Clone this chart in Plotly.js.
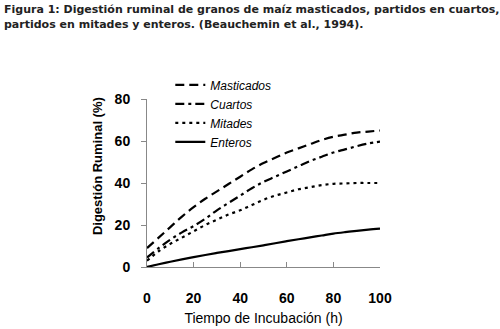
<!DOCTYPE html>
<html>
<head>
<meta charset="utf-8">
<script src="https://cdn.plot.ly/plotly-3.0.1.min.js"></script>
<style>html,body{margin:0;padding:0;background:#fff;}#chart{width:500px;height:329px;}</style>
</head>
<body>
<div id="chart"></div>
<script>
const hours = [0,5,10,15,20,25,30,35,40,45,50,55,60,65,70,75,80,85,90,95,100];
const masticados = [9,14,19,24,28.5,32.5,36,39.5,43,46.5,49.5,52,54.5,56.5,58.5,60.5,62,63,64,64.5,65];
const cuartos = [4.5,9,13,16.5,19.5,23,27,30.5,34,37.5,40.5,43,45.5,48,50.5,52.5,54.5,56,57.5,58.8,59.7];
const mitades = [3,7.5,11,14,17,20,22.5,25,27,29.5,32,34,35.5,37,38,39,39.6,39.8,40,40,40];
const enteros = [0,1.3,2.5,3.6,4.7,5.7,6.7,7.6,8.5,9.4,10.3,11.3,12.3,13.2,14.1,15,15.9,16.6,17.2,17.8,18.3];
const seriesNames = ['Masticados','Cuartos','Mitades','Enteros'];
const xTicks = [0,20,40,60,80,100];
const yTicks = [0,20,40,60,80];
const titleLines = ['Figura 1: Digestión ruminal de granos de maíz masticados, partidos en cuartos,',
                    'partidos en mitades y enteros. (Beauchemin et al., 1994).'];

const dashes = ['9px,5px','9px,4px,3px,4px','3px,4px','solid'];
const allSeries = [masticados,cuartos,mitades,enteros];
const traces = allSeries.map((s,i)=>({
  x: hours, y: s, name: seriesNames[i], type:'scatter', mode:'lines',
  line:{color:'#000', width:2.2, dash:dashes[i], shape:'spline'}
}));

const tickFont = {family:'Liberation Sans, Arial, sans-serif', size:14, color:'#000', weight:'bold'};
const titleFont = {family:'DejaVu Sans, Verdana, sans-serif', size:11, color:'#222', weight:'bold'};
const layout = {
  width:500, height:329,
  margin:{l:147, r:120, t:99, b:62, pad:0},
  paper_bgcolor:'#fff', plot_bgcolor:'#fff',
  showlegend:true,
  xaxis:{
    range:[0,100], tickvals:xTicks, ticktext:xTicks.map(String),
    showgrid:false, zeroline:false, showline:true, linecolor:'#888', linewidth:1,
    ticks:'inside', ticklen:5, tickcolor:'#888', tickwidth:1,
    tickfont:tickFont, ticklabelstandoff:18,
    title:{text:'Tiempo de Incubación (h)', font:{family:'Liberation Sans, Arial, sans-serif', size:14, color:'#000'}, standoff:8}
  },
  yaxis:{
    range:[0,80], tickvals:yTicks, ticktext:yTicks.map(String),
    showgrid:false, zeroline:false, showline:true, linecolor:'#888', linewidth:1,
    ticks:'outside', ticklen:5, tickcolor:'#888', tickwidth:1,
    tickfont:tickFont, ticklabelstandoff:8
  },
  legend:{
    x:0.1, xanchor:'left', y:1.17, yanchor:'top',
    bgcolor:'rgba(0,0,0,0)', borderwidth:0,
    font:{family:'Liberation Sans, Arial, sans-serif', size:12, color:'#000', style:'italic'},
    tracegroupgap:0
  },
  annotations:[
    {text:titleLines[0], xref:'paper', yref:'paper', x:-0.6223, y:1.5298, xanchor:'left', yanchor:'middle', showarrow:false, font:titleFont},
    {text:titleLines[1], xref:'paper', yref:'paper', x:-0.6223, y:1.4464, xanchor:'left', yanchor:'middle', showarrow:false, font:titleFont},
    {
    text:'Digestión Ruminal (%)', xref:'paper', yref:'paper',
    x:-0.215, y:0.6, xanchor:'center', yanchor:'middle', textangle:-90, showarrow:false,
    font:{family:'Liberation Sans, Arial, sans-serif', size:13, color:'#000', weight:'bold'}
  }]
};
Plotly.newPlot('chart', traces, layout, {staticPlot:true, displayModeBar:false});
</script>
</body>
</html>
